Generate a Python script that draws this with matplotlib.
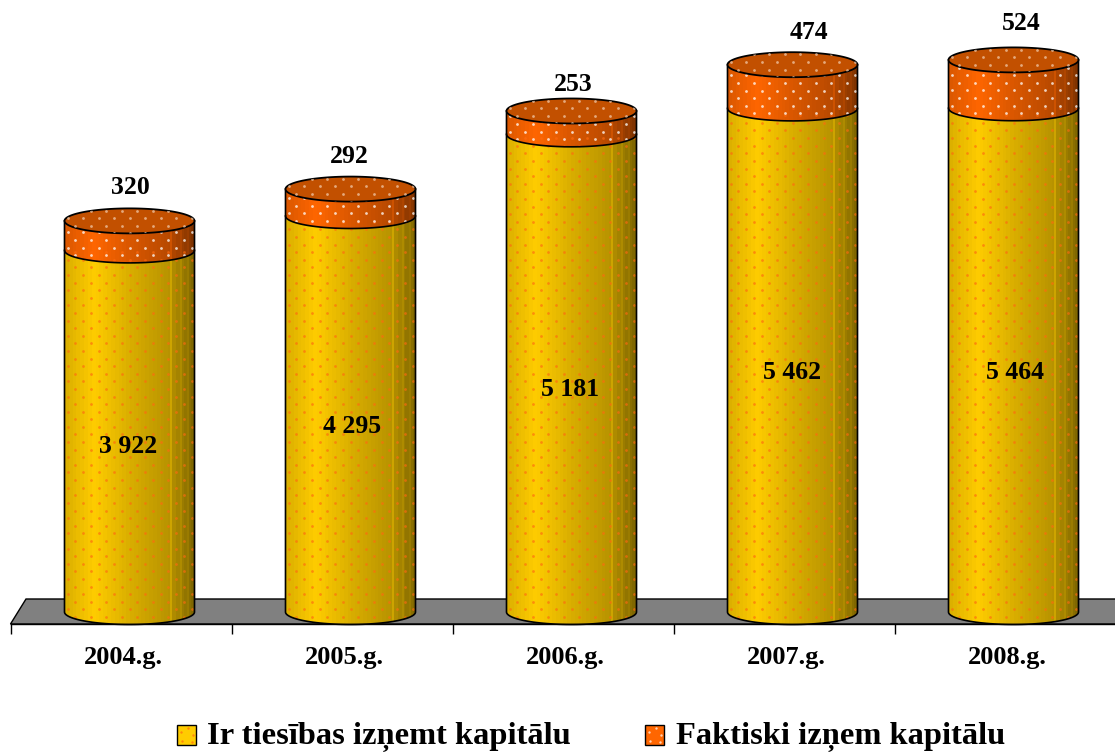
#!/usr/bin/python3
# -*- coding: utf-8 -*-
from matplotlib import pyplot as plt
from matplotlib.patches import Polygon, Rectangle
import matplotlib.colors as mcolors
import numpy as np

years = ["2004.g.", "2005.g.", "2006.g.", "2007.g.", "2008.g."]
can_withdraw = [3922, 4295, 5181, 5462, 5464]
withdraw = [320, 292, 253, 474, 524]
series_names = ["Ir tiesības izņemt kapitālu", "Faktiski izņem kapitālu"]

# label nudges in pixels, the original labels are not quite centred
inner_nudge = [(-1, -15), (2, -12), (-1, -16), (0, -12), (2, -12)]
top_nudge = [(1, -2), (-1, -2), (2, -9), (16, -3), (8, 1)]

W, H = 1115, 752
PX_X0, PX_STEP = 121.5, 221.0
BAR_SHIFT = 8.0 / PX_STEP
LABEL_SHIFT = 1.5 / PX_STEP
PX_Y0, PX_PER_UNIT = 612.0, 0.0922
HALF_W = 65.0 / PX_STEP
HALF_H = 12.5 / PX_PER_UNIT
YELLOW = "#ffcc00"
ORANGE = "#ff6600"
TOP = "#c25000"
SERIF = "Liberation Serif"


def shade_strip(colour):
	n = 68
	t = (np.arange(n) + 0.5) / n
	shade = np.interp(t, [0, 0.06, 0.22, 0.5, 0.8, 0.94, 1], [0.86, 0.9, 1, 0.85, 0.72, 0.55, 0.48])
	# bands like the original, two columns each
	shade = np.repeat(shade[::2], 2)
	rgb = np.array(mcolors.to_rgb(colour))
	strip = np.outer(shade, rgb)
	# the thin pale streaks near the right side
	for i in [55, 60, 64]:
		strip[i] = strip[i] * 1.12
	return np.clip(strip, 0, 1)[np.newaxis, :, :]


def arc(x, y, lower=True):
	a = np.linspace(np.pi, 2 * np.pi, 60)
	if not lower:
		a = a - np.pi
	return x + HALF_W * np.cos(a), y + HALF_H * np.sin(a)


def dots(ax, x, y_low, y_high, colour, clip, alpha, zorder=3):
	xs, ys = [], []
	step_x = 15.5 / PX_STEP
	step_y = 7.6 / PX_PER_UNIT
	row = 0
	y = y_low - HALF_H
	while y < y_high + HALF_H:
		off = 0.5 * step_x * (row % 2)
		for k in np.arange(-6, 7):
			xs.append(x + k * step_x + off)
			ys.append(y)
		y += step_y
		row += 1
	pts = ax.scatter(xs, ys, s=4, c=colour, alpha=alpha, linewidths=0, zorder=zorder)
	pts.set_clip_path(clip)


def segment(ax, x, y_low, y_high, colour, dot_colour, alpha):
	ax_x, ax_y = arc(x, y_low)
	xy = np.vstack([[x - HALF_W, y_high], np.column_stack([ax_x, ax_y]), [x + HALF_W, y_high]])
	fill = Polygon(xy, closed=True, facecolor="none", edgecolor="none", zorder=2)
	ax.add_patch(fill)
	img = ax.imshow(shade_strip(colour), extent=[x - HALF_W, x + HALF_W, y_low - HALF_H, y_high],
		aspect="auto", interpolation="nearest", zorder=2)
	img.set_clip_path(fill)
	dots(ax, x, y_low, y_high, dot_colour, fill, alpha)
	ax.plot(xy[:, 0], xy[:, 1], color="black", lw=1.2, zorder=4)


def cylinder(ax, x, low, high):
	segment(ax, x, 0, low, YELLOW, "#ff6a10", 0.65)
	segment(ax, x, low, low + high, ORANGE, "#ffffff", 0.75)
	top = low + high
	xy = np.vstack([np.column_stack(arc(x, top)), np.column_stack(arc(x, top, False))])
	cap = Polygon(xy, closed=True, facecolor=TOP, edgecolor="black", linewidth=1.3, zorder=5)
	ax.add_patch(cap)
	dots(ax, x, top, top, "#f0c8a8", cap, 0.75, zorder=6)


def main():
	fig = plt.figure(figsize=(W / 100, H / 100), dpi=100)

	# floor and legend swatches sit in a plain pixel axes
	bg = fig.add_axes([0, 0, 1, 1])
	bg.set_xlim(0, W)
	bg.set_ylim(H, 0)
	bg.axis("off")
	bg.add_patch(Polygon([(10.5, 624), (26, 599), (W + 5, 599), (W + 5, 624)], closed=True,
		facecolor="#808080", edgecolor="black", linewidth=1))

	ax = fig.add_axes([0, 0, 1, 1])
	ax.patch.set_alpha(0)
	x = np.arange(len(years))
	for i in x:
		cx = i + BAR_SHIFT
		cylinder(ax, cx, can_withdraw[i], withdraw[i])
		tx, ty = inner_nudge[i]
		ax.annotate(f"{can_withdraw[i]:,}".replace(",", " "), (cx, can_withdraw[i] / 2),
			xytext=(tx, ty), textcoords="offset pixels", ha="center", va="center",
			fontsize=18.5, fontweight="bold", family=SERIF, zorder=7)
		tx, ty = top_nudge[i]
		ax.annotate(str(withdraw[i]), (cx, can_withdraw[i] + withdraw[i]),
			xytext=(tx, 35 + ty), textcoords="offset pixels", ha="center", va="center",
			fontsize=18.5, fontweight="bold", family=SERIF, zorder=7)

	for name in ["top", "left", "right"]:
		ax.spines[name].set_visible(False)
	base = (PX_Y0 - 624) / PX_PER_UNIT
	ax.spines["bottom"].set_position(("data", base))
	ax.spines["bottom"].set_bounds((10.5 - PX_X0) / PX_STEP, (W - PX_X0) / PX_STEP)
	ax.spines["bottom"].set_linewidth(1)
	ax.set_yticks([])
	ax.set_xticks(x[:] - 0.5, labels=[""] * len(years))
	ax.set_xticks(x + LABEL_SHIFT, labels=years, minor=True)
	ax.tick_params(axis="x", which="major", length=7.5, width=1)
	ax.tick_params(axis="x", which="minor", length=0, pad=16)
	for lab in ax.get_xticklabels(minor=True):
		lab.set_fontsize(19)
		lab.set_fontweight("bold")
		lab.set_family(SERIF)
	ax.set_xlim(-PX_X0 / PX_STEP, (W - PX_X0) / PX_STEP)
	ax.set_ylim((PX_Y0 - H) / PX_PER_UNIT, PX_Y0 / PX_PER_UNIT)

	# legend
	for left, colour, dot, name, text_x in [(177, YELLOW, "#ff6a10", series_names[0], 207),
			(645, ORANGE, "#ffffff", series_names[1], 676)]:
		bg.add_patch(Rectangle((left, 725), 19, 20, facecolor=colour, edgecolor="black", linewidth=1))
		bg.scatter([left + 4, left + 11, left + 16, left + 5, left + 15], [732, 728, 735, 741, 742],
			s=3, c=dot, alpha=0.7, linewidths=0, zorder=3)
		bg.text(text_x, 737, name, ha="left", va="center", fontsize=23.4, fontweight="bold", family=SERIF)

	plt.savefig("out.png", dpi=100)


if __name__ == "__main__":
	main()
